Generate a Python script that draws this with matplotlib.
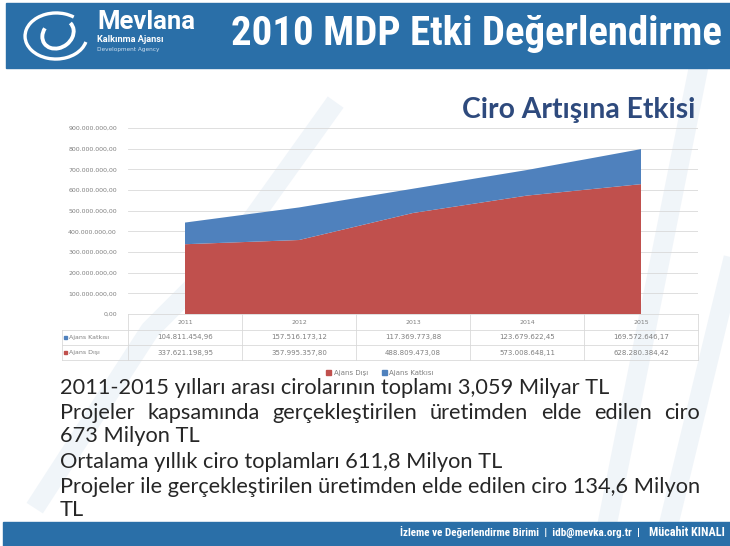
import numpy as np
import matplotlib
matplotlib.use("Agg")
import matplotlib.pyplot as plt
from matplotlib.patches import Rectangle, Arc
from matplotlib.transforms import blended_transform_factory
from matplotlib.lines import Line2D
import logging
logging.getLogger("matplotlib.font_manager").setLevel(logging.ERROR)

# --- data ---
years = ["2011", "2012", "2013", "2014", "2015"]
ajans_katkisi = [104811454.96, 157516173.12, 117369773.88, 123679622.45, 169572646.17]
ajans_disi = [337621198.95, 357995357.80, 488809473.08, 573008648.11, 628280384.42]
y_ticks = [0, 100e6, 200e6, 300e6, 400e6, 500e6, 600e6, 700e6, 800e6, 900e6]
body_lines = [
    "2011-2015 yılları arası cirolarının toplamı 3,059 Milyar TL",
    "Projeler kapsamında gerçekleştirilen üretimden elde edilen ciro",
    "673 Milyon TL",
    "Ortalama yıllık ciro toplamları 611,8 Milyon TL",
    "Projeler ile gerçekleştirilen üretimden elde edilen ciro 134,6 Milyon",
    "TL",
]

RED = "#c0504d"
BLUE = "#4f81bd"
BAND = "#2a6fa8"
GREY = "#7f7f7f"
W, H = 730, 546

NARROW = ["Roboto Condensed", "DejaVu Sans Condensed", "Liberation Sans Narrow", "Roboto"]
BODY = ["Lato", "Open Sans", "DejaVu Sans"]


def px(x):
    return x / W


def py(y):
    return 1 - y / H


def fmt_tr(v):
    s = f"{v:,.2f}"
    return s.replace(",", "X").replace(".", ",").replace("X", ".")


fig = plt.figure(figsize=(7.3, 5.46), dpi=100)
fig.patch.set_facecolor("white")
renderer = fig.canvas.get_renderer()


def fit(t, width):
    # scale the font so the text spans `width` pixels
    w = t.get_window_extent(renderer).width
    t.set_fontsize(t.get_fontsize() * width / w)
    return t


# faint background decoration
for pts in ([(40, 500), (150, 330), (230, 250), (330, 110)],
            [(600, 560), (700, 60)], [(660, 560), (740, 230)]):
    xs = [px(p[0]) for p in pts]
    ys = [py(p[1]) for p in pts]
    fig.add_artist(Line2D(xs, ys, color="#dfe9f3", lw=14, alpha=0.45,
                          transform=fig.transFigure, zorder=0))

# header / footer bands
fig.add_artist(Rectangle((px(6), py(68)), px(724), 65 / H, color=BAND,
                         transform=fig.transFigure, zorder=1))
fig.add_artist(Rectangle((px(3), 0), px(727), 24 / H, color=BAND,
                         transform=fig.transFigure, zorder=1))

# logo swirl
fig.add_artist(Arc((px(56), py(36)), 62 / W, 46 / H, angle=25, theta1=30, theta2=320,
                   color="white", lw=2.4, transform=fig.transFigure, zorder=2))
fig.add_artist(Arc((px(58), py(34)), 30 / W, 30 / H, angle=-20, theta1=170, theta2=430,
                   color="white", lw=2.8, transform=fig.transFigure, zorder=2))
fit(fig.text(px(97), py(22), "Mevlana", color="white", fontsize=17, fontweight="bold",
             family=["Roboto", "DejaVu Sans"], va="center", ha="left", zorder=3), 98)
fit(fig.text(px(97), py(40), "Kalkınma Ajansı", color="white", fontsize=6,
             fontweight="bold", family=["Roboto", "DejaVu Sans"],
             va="center", ha="left", zorder=3), 66)
fit(fig.text(px(97), py(49), "Development Agency", color="#cfe0f0", fontsize=4,
             va="center", ha="left", zorder=3), 62)

fit(fig.text(px(722), py(34), "2010 MDP Etki Değerlendirme", color="white", fontsize=31,
             fontweight="bold", family=NARROW, va="center", ha="right", zorder=3), 492)

fit(fig.text(px(695), py(110), "Ciro Artışına Etkisi", color="#2e4a7d", fontsize=15,
             fontweight="bold", family=BODY, va="center", ha="right"), 233)

# footer text
fit(fig.text(px(640), py(532), "İzleme ve Değerlendirme Birimi  |  idb@mevka.org.tr  |",
             color="white", fontsize=10, fontweight="bold", family=NARROW,
             va="center", ha="right", zorder=3), 242)
fit(fig.text(px(725), py(532), "Mücahit KINALI", color="white", fontsize=7,
             fontweight="bold", family=NARROW, va="center", ha="right", zorder=3), 76)

# chart
ax = fig.add_axes([px(128), py(314), px(698) - px(128), (314 - 128) / H])
ax.set_facecolor("none")
x = np.arange(len(years))
ax.stackplot(x, ajans_disi, ajans_katkisi, colors=[RED, BLUE], lw=0, zorder=2)
ax.set_xlim(-0.5, len(years) - 0.5)
ax.set_ylim(0, 900e6)
ax.set_yticks(y_ticks)
ax.set_yticklabels([fmt_tr(v) for v in y_ticks], fontsize=4.5, color=GREY)
ax.yaxis.grid(True, color="#d9d9d9", lw=0.6, zorder=0)
ax.set_xticks([])
ax.tick_params(axis="y", length=0, pad=8)
for s in ["top", "right", "left"]:
    ax.spines[s].set_visible(False)
ax.spines["bottom"].set_color("#d9d9d9")
ax.spines["bottom"].set_linewidth(0.6)

# data table under the chart
tr = blended_transform_factory(ax.transData, fig.transFigure)
line_kw = dict(color="#d9d9d9", lw=0.6)
for b in np.arange(-0.5, len(years)):
    fig.add_artist(Line2D([b, b], [py(314), py(360)], transform=tr, **line_kw))
for yy in [330, 345, 360]:
    fig.add_artist(Line2D([px(62), px(698)], [py(yy), py(yy)],
                          transform=fig.transFigure, **line_kw))
fig.add_artist(Line2D([px(62), px(62)], [py(330), py(360)],
                      transform=fig.transFigure, **line_kw))

for i, yr in enumerate(years):
    fig.text(i, py(322), yr, transform=tr, fontsize=4.5, color=GREY, ha="center", va="center")
    fig.text(i, py(337.5), fmt_tr(ajans_katkisi[i]), transform=tr, fontsize=5,
             color=GREY, ha="center", va="center")
    fig.text(i, py(352.5), fmt_tr(ajans_disi[i]), transform=tr, fontsize=5,
             color=GREY, ha="center", va="center")

for yy, lbl, c in [(337.5, "Ajans Katkısı", BLUE), (352.5, "Ajans Dışı", RED)]:
    fig.add_artist(Rectangle((px(64), py(yy) - 1.5 / H), 3 / W, 3 / H, color=c,
                             transform=fig.transFigure))
    fig.text(px(69), py(yy), lbl, fontsize=4.5, color=GREY, ha="left", va="center")

# legend
handles = [Rectangle((0, 0), 1, 1, color=RED), Rectangle((0, 0), 1, 1, color=BLUE)]
fig.legend(handles, ["Ajans Dışı", "Ajans Katkısı"], loc="center",
           bbox_to_anchor=(px(380), py(373)), ncol=2, frameon=False, fontsize=5,
           handlelength=0.7, handleheight=0.7, handletextpad=0.4, columnspacing=2.0,
           labelcolor=GREY)

# body text, one size for all lines (set by the longest line)
LEFT, RIGHT = 60, 700
body_y = [388, 413, 436, 462, 487, 510]
body_kw = dict(fontsize=13.5, color="#262626", family=BODY, va="center", ha="left")
probe = fit(fig.text(px(LEFT), py(487), body_lines[4], **body_kw), RIGHT - LEFT)
body_kw["fontsize"] = probe.get_fontsize()
probe.remove()
for i, (txt, yy) in enumerate(zip(body_lines, body_y)):
    if i == 1:
        # justified line
        words = txt.split()
        objs = [fig.text(px(LEFT), py(yy), w, **body_kw) for w in words]
        widths = [o.get_window_extent(renderer).width for o in objs]
        gap = (RIGHT - LEFT - sum(widths)) / (len(words) - 1)
        cur = LEFT
        for o, wd in zip(objs, widths):
            o.set_x(px(cur))
            cur += wd + gap
    else:
        fig.text(px(LEFT), py(yy), txt, **body_kw)

fig.savefig("out.png", dpi=100)
